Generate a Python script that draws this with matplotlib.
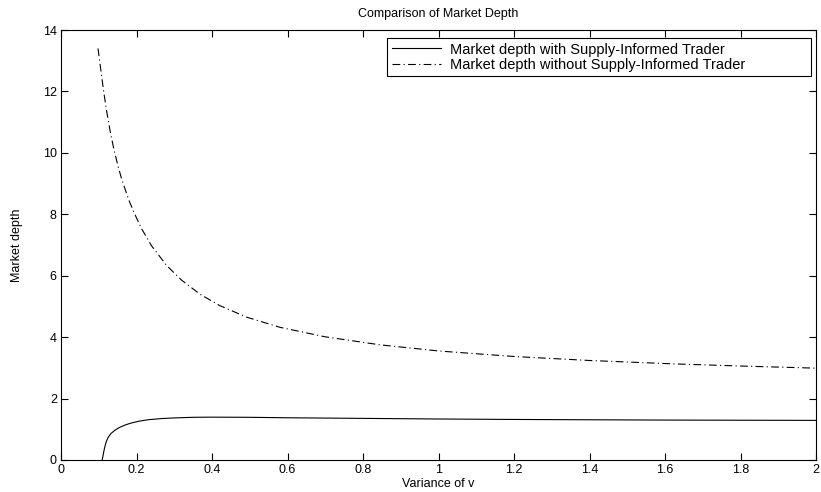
import matplotlib
matplotlib.use("Agg")
import matplotlib.pyplot as plt

# values
x_with = [0.109, 0.111, 0.113, 0.115, 0.117, 0.120, 0.125, 0.133, 0.143, 0.155, 0.170,
          0.185, 0.205, 0.230, 0.267, 0.30, 0.35, 0.40, 0.50, 0.60, 0.80, 1.00, 1.20,
          1.40, 1.60, 1.80, 2.00]
y_with = [0.0, 0.12, 0.25, 0.37, 0.47, 0.60, 0.74, 0.87, 0.97, 1.06, 1.14,
          1.20, 1.26, 1.31, 1.35, 1.37, 1.39, 1.395, 1.39, 1.375, 1.355, 1.335, 1.32,
          1.31, 1.30, 1.295, 1.29]

x_without = [0.098, 0.105, 0.113, 0.121, 0.130, 0.140, 0.150, 0.161, 0.181, 0.20, 0.214,
             0.24, 0.28, 0.32, 0.368, 0.42, 0.492, 0.58, 0.70, 0.845, 1.00, 1.2, 1.4,
             1.622, 1.8, 2.00]
y_without = [13.4, 12.75, 12.0, 11.35, 10.72, 10.12, 9.62, 9.13, 8.42, 7.88, 7.52,
             6.97, 6.33, 5.85, 5.40, 5.03, 4.65, 4.32, 4.01, 3.75, 3.55, 3.37, 3.24,
             3.13, 3.06, 2.99]

labels = ["Market depth with Supply-Informed Trader",
          "Market depth without Supply-Informed Trader"]

plt.rcParams["font.family"] = ["Liberation Sans", "DejaVu Sans"]
plt.rcParams["font.size"] = 9

fig = plt.figure(figsize=(8.21, 4.92), dpi=100)
ax = fig.add_axes([61 / 821, 32 / 492, 755 / 821, 430 / 492])

ax.plot(x_with, y_with, color="black", linewidth=0.8, label=labels[0])
ax.plot(x_without, y_without, color="black", linewidth=0.8,
        linestyle=(0, (7, 3, 1, 3)), label=labels[1])

ax.set_xlim(0, 2)
ax.set_ylim(0, 14)
ax.set_xticks([0, 0.2, 0.4, 0.6, 0.8, 1, 1.2, 1.4, 1.6, 1.8, 2])
ax.set_xticklabels(["0", "0.2", "0.4", "0.6", "0.8", "1", "1.2", "1.4", "1.6", "1.8", "2"])
ax.set_yticks(range(0, 15, 2))
ax.tick_params(direction="in", top=True, right=True, length=5, width=0.8,
               labelsize=9, pad=3)
for s in ax.spines.values():
    s.set_linewidth(0.8)

ax.set_title("Comparison of Market Depth", fontsize=9, pad=9)
ax.set_xlabel("Variance of v", fontsize=9, labelpad=1)
ax.set_ylabel("Market depth", fontsize=9)
ax.yaxis.set_label_coords(-0.05, 0.5)

# MATLAB-style legend box, wider than its text
leg = ax.legend(loc="upper left", bbox_to_anchor=(0.432, 0.0, 0.562, 0.981),
                mode="expand", fancybox=False, framealpha=1, edgecolor="black",
                handlelength=3.4, handletextpad=0.6, borderpad=0.3,
                labelspacing=0.1, fontsize=10.5, borderaxespad=0)
leg.get_frame().set_linewidth(0.8)

fig.savefig("out.png", dpi=100)
